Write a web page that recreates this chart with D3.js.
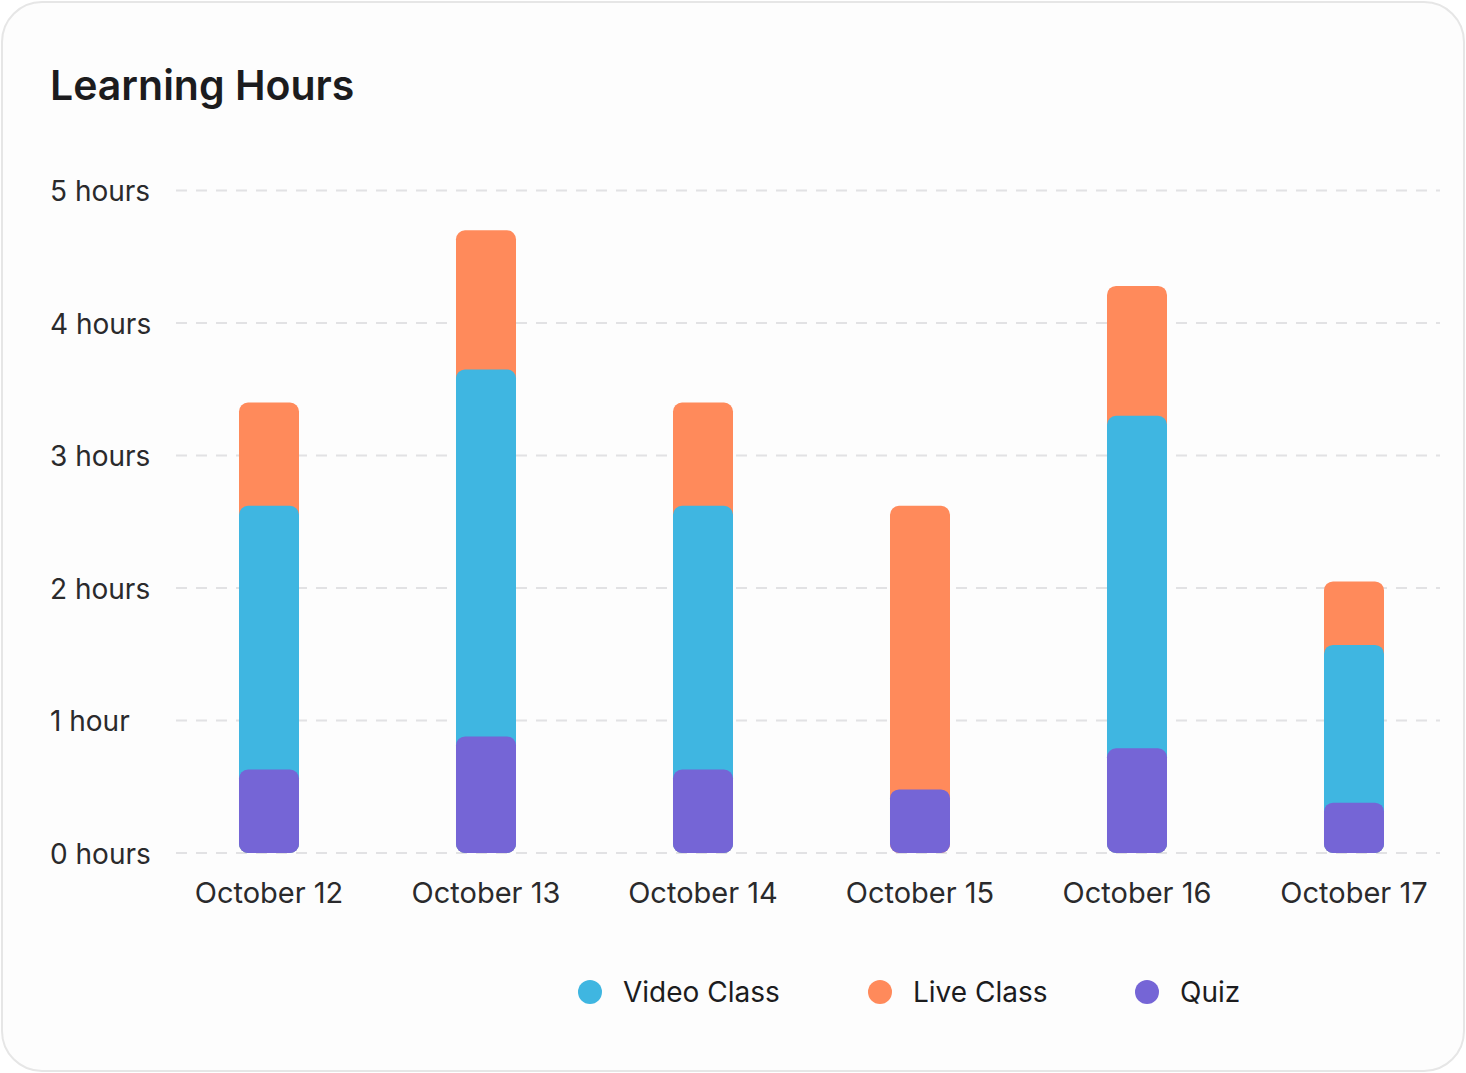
<!DOCTYPE html>
<html>
<head>
<meta charset="utf-8">
<script src="https://cdn.jsdelivr.net/npm/d3@7"></script>
<style>
  html, body { margin: 0; padding: 0; background: #ffffff; }
  svg { display: block; }
  text { font-family: Inter, "Noto Sans", sans-serif; }
</style>
</head>
<body>
<svg id="chart" width="1466" height="1073"></svg>
<script>
const categories = ["October 12", "October 13", "October 14", "October 15", "October 16", "October 17"];
const quiz  = [0.63, 0.88, 0.63, 0.48, 0.79, 0.38];
const video = [1.99, 2.77, 1.99, 0.00, 2.51, 1.19];
const live  = [0.78, 1.05, 0.78, 2.14, 0.98, 0.48];
const seriesNames = ["Video Class", "Live Class", "Quiz"];
const seriesColors = ["#3FB6E1", "#FF8A5B", "#7565D6"];
const yTicks = [0, 1, 2, 3, 4, 5];
const yTickLabels = ["0 hours", "1 hour", "2 hours", "3 hours", "4 hours", "5 hours"];
const title = "Learning Hours";

const svg = d3.select("#chart");

// card
svg.append("rect")
  .attr("x", 2).attr("y", 2).attr("width", 1462).attr("height", 1069)
  .attr("rx", 40).attr("ry", 40)
  .attr("fill", "#fdfdfd").attr("stroke", "#e6e6e6").attr("stroke-width", 2);

svg.append("text")
  .attr("x", 50).attr("y", 100)
  .attr("font-size", 41).attr("font-weight", 600).attr("fill", "#1c1c1e")
  .text(title);

const y = d3.scaleLinear().domain([0, 5]).range([853, 190.5]);
const x = d3.scaleBand().domain(categories).range([160.5, 1462.5]).paddingInner(0.7235).paddingOuter(0.36175);

// grid
const grid = svg.append("g");
grid.selectAll("line").data(yTicks).join("line")
  .attr("x1", 176).attr("x2", 1440)
  .attr("y1", d => y(d)).attr("y2", d => y(d))
  .attr("stroke", "#e2e2e4").attr("stroke-width", 2)
  .attr("stroke-dasharray", "11,9");

// y labels
svg.append("g").selectAll("text").data(yTicks).join("text")
  .attr("x", 50).attr("y", d => y(d) + 1)
  .attr("dy", "0.35em")
  .attr("font-size", 28).attr("fill", "#2a2a2c")
  .text((d, i) => yTickLabels[i]);

// x labels
svg.append("g").selectAll("text").data(categories).join("text")
  .attr("x", d => x(d) + x.bandwidth() / 2).attr("y", 903)
  .attr("text-anchor", "middle")
  .attr("font-size", 29).attr("fill", "#2a2a2c")
  .text(d => d);

// stacked bars: draw from tallest cumulative to shortest so lower segments overlay
const rows = categories.map((c, i) => ({ c, quiz: quiz[i], video: video[i], live: live[i] }));
const layers = [
  { name: "Live Class", color: seriesColors[1], top: d => d.quiz + d.video + d.live, val: d => d.live },
  { name: "Video Class", color: seriesColors[0], top: d => d.quiz + d.video, val: d => d.video },
  { name: "Quiz", color: seriesColors[2], top: d => d.quiz, val: d => d.quiz }
];
const bars = svg.append("g");
layers.forEach(L => {
  bars.append("g").selectAll("rect").data(rows.filter(d => L.val(d) > 0)).join("rect")
    .attr("x", d => x(d.c))
    .attr("width", x.bandwidth())
    .attr("y", d => y(L.top(d)))
    .attr("height", d => y(0) - y(L.top(d)))
    .attr("rx", 9).attr("ry", 9)
    .attr("fill", L.color);
});

// legend
const legendX = [590, 880, 1147];
const leg = svg.append("g");
seriesNames.forEach((n, i) => {
  leg.append("circle").attr("cx", legendX[i]).attr("cy", 992).attr("r", 12).attr("fill", seriesColors[i]);
  leg.append("text").attr("x", legendX[i] + 33).attr("y", 992).attr("dy", "0.35em")
    .attr("font-size", 28).attr("fill", "#1c1c1e").text(n);
});
</script>
</body>
</html>
